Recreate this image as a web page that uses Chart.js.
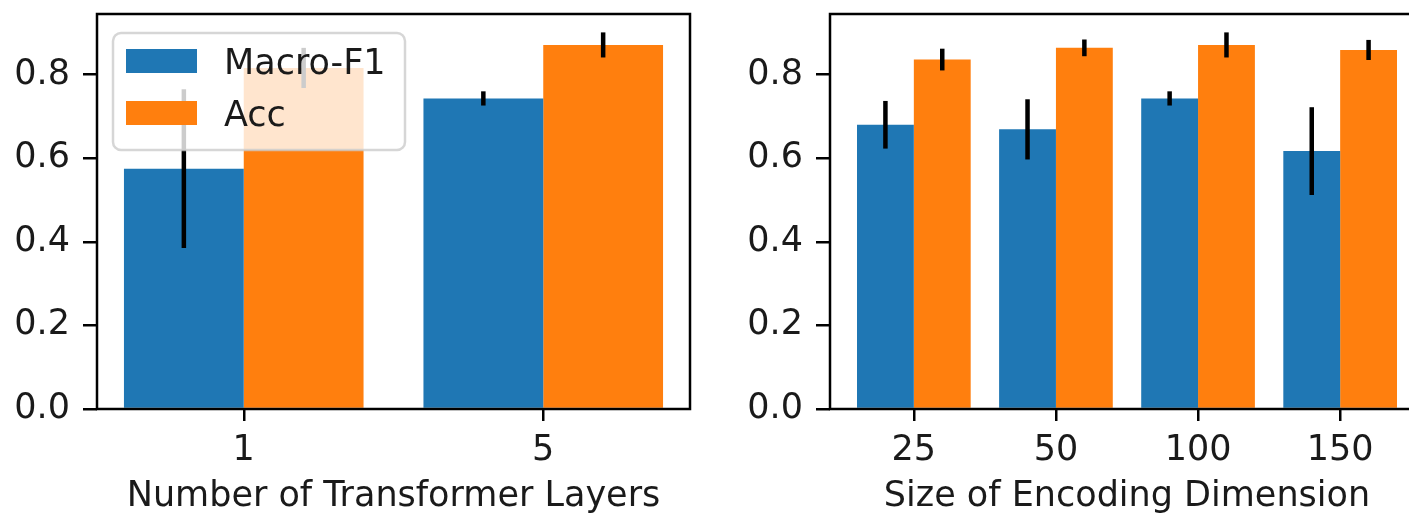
<!DOCTYPE html>
<html>
<head>
<meta charset="utf-8">
<script src="https://cdn.jsdelivr.net/npm/chart.js@4/dist/chart.umd.min.js"></script>
<style>
    html, body { margin: 0; padding: 0; background: #fff; overflow: hidden; width: 1409px; height: 518px; }
    #cajaCapas { position: absolute; left: 0; top: 0; }
    #cajaDim { position: absolute; left: 700px; top: 0; }
</style>
</head>
<body>
<div id="cajaCapas"><canvas id="chartCapas" width="700" height="518"></canvas></div>
<div id="cajaDim"><canvas id="chartDim" width="740" height="518"></canvas></div>
<script>
// Izquierda: numero de capas
const capas = ["1", "5"];
const capasF1 = [0.575, 0.743];
const capasF1Err = [0.19, 0.017];
const capasAcc = [0.816, 0.871];
const capasAccErr = [0.048, 0.03];

// Derecha: dimension de codificacion
const dims = ["25", "50", "100", "150"];
const dimsF1 = [0.68, 0.669, 0.743, 0.617];
const dimsF1Err = [0.057, 0.072, 0.017, 0.105];
const dimsAcc = [0.836, 0.864, 0.871, 0.859];
const dimsAccErr = [0.026, 0.02, 0.03, 0.024];

const yTicks = [0, 0.2, 0.4, 0.6, 0.8];
const series = ["Macro-F1", "Acc"];
const colores = ["#1f77b4", "#ff7f0e"];

Chart.defaults.font.family = "'DejaVu Sans'";
Chart.defaults.font.size = 35;
Chart.defaults.color = "#1a1a1a";

// barras de error en negro
const barrasError = {
    id: "barrasError",
    afterDatasetsDraw(chart) {
        const ctx = chart.ctx;
        const y = chart.scales.y;
        ctx.save();
        ctx.strokeStyle = "#000";
        ctx.lineWidth = 4.5;
        chart.data.datasets.forEach((ds, i) => {
            chart.getDatasetMeta(i).data.forEach((bar, j) => {
                const v = ds.data[j].y;
                const e = ds.errores[j];
                ctx.beginPath();
                ctx.moveTo(bar.x, y.getPixelForValue(v - e));
                ctx.lineTo(bar.x, y.getPixelForValue(v + e));
                ctx.stroke();
            });
        });
        ctx.restore();
    }
};

// marco completo + leyenda
const marco = {
    id: "marco",
    afterDraw(chart, args, opts) {
        const ctx = chart.ctx;
        const a = chart.chartArea;
        ctx.save();
        ctx.strokeStyle = "#000";
        ctx.lineWidth = 2.5;
        ctx.strokeRect(a.left, a.top, a.right - a.left, a.bottom - a.top);

        if (opts.leyenda) {
            ctx.beginPath();
            ctx.roundRect(113, 33, 292, 117, 8);
            ctx.fillStyle = "rgba(255,255,255,0.8)";
            ctx.fill();
            ctx.strokeStyle = "rgba(204,204,204,0.8)";
            ctx.lineWidth = 2.5;
            ctx.stroke();
            chart.data.datasets.forEach((ds, i) => {
                const yc = 61 + i * 52;
                ctx.fillStyle = ds.backgroundColor;
                ctx.fillRect(126, yc - 12, 71, 24);
                ctx.fillStyle = "#1a1a1a";
                ctx.font = "35px 'DejaVu Sans'";
                ctx.textBaseline = "alphabetic";
                ctx.textAlign = "left";
                ctx.fillText(ds.label, 224, yc + 13);
            });
        }
        ctx.restore();
    }
};

function crearGrafico(id, etiquetas, f1, f1Err, acc, accErr, titulo, anchoY, margenDer, leyenda) {
    const n = etiquetas.length;
    const rango = n - 0.2;
    const ctx = document.getElementById(id).getContext("2d");
    return new Chart(ctx, {
        type: "bar",
        data: {
            datasets: [
                {
                    label: series[0],
                    data: f1.map((v, i) => ({ x: i, y: v })),
                    errores: f1Err,
                    backgroundColor: colores[0]
                },
                {
                    label: series[1],
                    data: acc.map((v, i) => ({ x: i, y: v })),
                    errores: accErr,
                    backgroundColor: colores[1]
                }
            ]
        },
        options: {
            responsive: false,
            animation: false,
            events: [],
            layout: { padding: { top: 14, right: margenDer, left: 0, bottom: 0 } },
            datasets: { bar: { categoryPercentage: 0.8, barPercentage: 1.0 } },
            plugins: {
                legend: { display: false },
                tooltip: { enabled: false },
                marco: { leyenda }
            },
            scales: {
                x: {
                    type: "linear",
                    offset: false,
                    min: -0.4 - 0.05 * rango,
                    max: n - 0.6 + 0.05 * rango,
                    afterBuildTicks: s => { s.ticks = etiquetas.map((_, i) => ({ value: i })); },
                    afterFit: s => { s.height = 109; s.paddingLeft = 0; s.paddingRight = 0; },
                    ticks: { callback: v => etiquetas[v], padding: 9, maxRotation: 0, autoSkip: false },
                    grid: { offset: false, drawOnChartArea: false, drawTicks: true, tickLength: 12, color: "#000", lineWidth: 2.5 },
                    border: { display: false },
                    title: { display: true, text: titulo, padding: { top: 0, bottom: 0 } }
                },
                y: {
                    min: 0,
                    max: 0.945,
                    afterBuildTicks: s => { s.ticks = yTicks.map(v => ({ value: v })); },
                    afterFit: s => { s.width = anchoY; s.paddingTop = 0; s.paddingBottom = 0; },
                    ticks: { callback: v => v.toFixed(1), padding: 13 },
                    grid: { drawOnChartArea: false, drawTicks: true, tickLength: 14, color: "#000", lineWidth: 2.5 },
                    border: { display: false }
                }
            }
        },
        plugins: [barrasError, marco]
    });
}

document.addEventListener("DOMContentLoaded", () => {
    crearGrafico("chartCapas", capas, capasF1, capasF1Err, capasAcc, capasAccErr,
        "Number of Transformer Layers", 97, 10, true);
    crearGrafico("chartDim", dims, dimsF1, dimsF1Err, dimsAcc, dimsAccErr,
        "Size of Encoding Dimension", 130, 16, false);
});
</script>
</body>
</html>
